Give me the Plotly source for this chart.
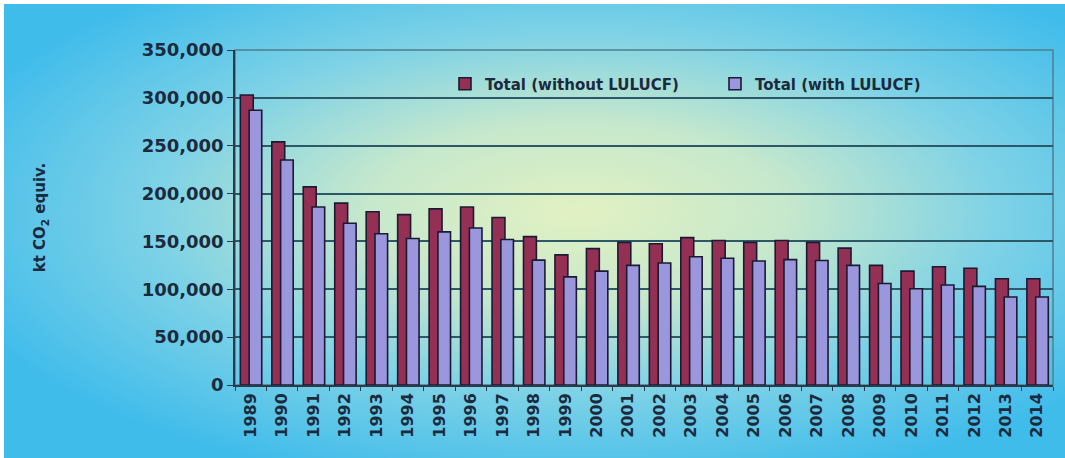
import base64
import plotly.graph_objects as go

years = [str(y) for y in range(1989, 2015)]
without_lulucf = [303000, 254000, 207000, 190000, 181000, 178000, 184000, 186000, 175000,
                  155000, 136000, 142500, 149000, 147500, 154000, 151000, 149000, 151000,
                  149000, 143000, 125000, 119000, 123500, 122000, 111000, 111000]
with_lulucf = [287000, 235000, 186000, 169000, 158000, 153000, 160000, 164000, 152000,
               130500, 113000, 119000, 125000, 127500, 134000, 132500, 129500, 131000,
               130000, 125000, 106000, 100500, 104500, 103000, 92000, 92000]
y_ticks = [0, 50000, 100000, 150000, 200000, 250000, 300000, 350000]
y_ticklabels = ["0", "50,000", "100,000", "150,000", "200,000", "250,000", "300,000", "350,000"]

W, H = 1065, 458
L, R, T, B = 235, 12, 50, 73
pw, ph = W - L - R, H - T - B

svg = f'''<svg xmlns="http://www.w3.org/2000/svg" width="{W}" height="{H}" viewBox="0 0 {W} {H}" preserveAspectRatio="none">
<defs><radialGradient id="g" cx="0.54" cy="0.46" r="0.62" fx="0.54" fy="0.46">
<stop offset="0" stop-color="#E2F1C2"/>
<stop offset="0.32" stop-color="#C6E8CC"/>
<stop offset="0.64" stop-color="#7ED2E6"/>
<stop offset="1" stop-color="#40BCEB"/>
</radialGradient></defs>
<rect width="{W}" height="{H}" fill="#ffffff"/>
<rect x="4" y="4" width="{W-4}" height="{H-4}" fill="url(#g)"/>
</svg>'''
bg_uri = "data:image/svg+xml;base64," + base64.b64encode(svg.encode()).decode()

FONT = "'DejaVu Sans', sans-serif"
TXT = "#1b2a3c"

fig = go.Figure()
fig.add_trace(go.Bar(
    x=years, y=without_lulucf, name="Total (without LULUCF)",
    marker=dict(color="#933054", line=dict(color="#1c1a33", width=1.6)),
    width=0.41, offset=-0.33,
))
fig.add_trace(go.Bar(
    x=years, y=with_lulucf, name="Total (with LULUCF)",
    marker=dict(color="#9A97DD", line=dict(color="#1c1a33", width=1.6)),
    width=0.4, offset=-0.05,
))

fig.update_layout(
    width=W, height=H,
    margin=dict(l=L, r=R, t=T, b=B, pad=0),
    barmode="overlay",
    paper_bgcolor="rgba(0,0,0,0)",
    plot_bgcolor="rgba(0,0,0,0)",
    font=dict(family=FONT, color=TXT, weight="bold"),
    showlegend=True,
    legend=dict(
        orientation="h", x=(445 - L) / pw, y=(H - B - 84) / ph,
        xanchor="left", yanchor="middle",
        bgcolor="rgba(0,0,0,0)",
        font=dict(size=15, family=FONT, color=TXT, weight="bold"),
        entrywidth=225, entrywidthmode="pixels",
        itemwidth=30,
    ),
    images=[dict(
        source=bg_uri, xref="paper", yref="paper",
        x=-L / pw, y=1 + T / ph, sizex=W / pw, sizey=H / ph,
        sizing="stretch", layer="below", xanchor="left", yanchor="top",
    )],
    shapes=[dict(type="rect", xref="paper", yref="paper", x0=0, x1=1, y0=0, y1=1,
                 line=dict(color="#4f7f8f", width=1.5), layer="below")],
)

fig.update_yaxes(
    range=[0, 350000], tickvals=y_ticks, ticktext=y_ticklabels,
    showgrid=True, gridcolor="#2c5868", gridwidth=1.5,
    showline=True, linecolor="#2a3a4a", linewidth=1.5,
    ticks="outside", ticklen=6, tickcolor="#2a3a4a", tickwidth=1.2,
    tickfont=dict(size=18, family=FONT, color=TXT, weight="bold"),
    zeroline=False,
    title=dict(text="kt CO<sub>2</sub> equiv.", standoff=92,
               font=dict(size=15, family=FONT, color=TXT, weight="bold")),
)
fig.update_xaxes(
    type="category", tickangle=-90,
    showline=True, linecolor="#2a3a4a", linewidth=1.5,
    ticks="outside", tickson="boundaries", ticklen=4, tickcolor="#2a3a4a",
    tickfont=dict(size=16, family=FONT, color=TXT, weight="bold"),
    showgrid=False, range=[-0.5, 25.5],
)

fig.write_html("out.html")
